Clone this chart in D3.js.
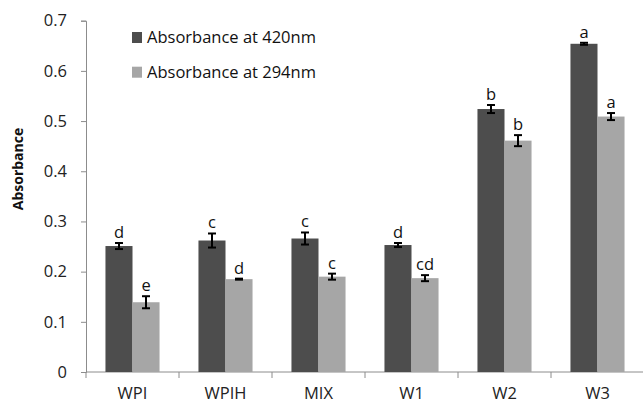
<!DOCTYPE html>
<html><head><meta charset="utf-8">
<script src="https://cdn.jsdelivr.net/npm/d3@7"></script>
<style>body{margin:0;background:#fff}svg{display:block}text{font-family:"Open Sans",sans-serif}</style>
</head><body><svg id="c" width="643" height="405"></svg>
<script>
const categories = ["WPI","WPIH","MIX","W1","W2","W3"];
const seriesNames = ["Absorbance at 420nm","Absorbance at 294nm"];
const abs420 = [0.251,0.262,0.266,0.253,0.524,0.654];
const abs294 = [0.139,0.185,0.190,0.187,0.461,0.509];
const err420 = [0.006,0.014,0.012,0.004,0.008,0.002];
const err294 = [0.012,0.001,0.006,0.006,0.011,0.007];
const letters420 = ["d","c","c","d","b","a"];
const letters294 = ["e","d","c","cd","b","a"];
const yTicks = [0,0.1,0.2,0.3,0.4,0.5,0.6,0.7];
const colors = ["#4d4d4d","#a6a6a6"];

(function(){
const svg = d3.select("#c");
const mLeft = 86, mRight = 644, mTop = 20.7, mBottom = 372;
const x = d3.scaleBand().domain(categories).range([mLeft,mRight]).paddingInner(0).paddingOuter(0);
const y = d3.scaleLinear().domain([0,0.7]).range([mBottom,mTop]);
const inner = d3.scaleBand().domain([0,1]).range([0,x.bandwidth()]).paddingOuter(0.72).paddingInner(0);

// y axis
const ya = svg.append("g").attr("transform",`translate(${mLeft},0)`)
  .call(d3.axisLeft(y).tickValues(yTicks).tickSize(5).tickPadding(14).tickFormat(d=>d===0?"0":d3.format(".1f")(d)));
ya.select(".domain").attr("stroke","#8c8c8c");
ya.selectAll(".tick line").attr("stroke","#8c8c8c");
ya.selectAll("text").attr("font-size",16.5).attr("fill","#222");

// x axis
const xa = svg.append("g").attr("transform",`translate(0,${mBottom})`)
  .call(d3.axisBottom(x).tickSize(0).tickPadding(15));
xa.select(".domain").attr("stroke","#8c8c8c").attr("d",`M${mLeft},0H${mRight}`);
xa.selectAll("text").attr("font-size",16.5).attr("fill","#222");
svg.append("g").selectAll("line").data(d3.range(categories.length+1)).join("line")
  .attr("x1",i=>mLeft+i*x.step()).attr("x2",i=>mLeft+i*x.step())
  .attr("y1",mBottom).attr("y2",mBottom+6).attr("stroke","#8c8c8c");

// bars
const series = [abs420, abs294], errs=[err420,err294], lets=[letters420,letters294];
series.forEach((vals,s)=>{
  const g = svg.append("g");
  g.selectAll("rect").data(vals).join("rect")
    .attr("x",(d,i)=>x(categories[i])+inner(s))
    .attr("width",inner.bandwidth())
    .attr("y",d=>y(d)).attr("height",d=>y(0)-y(d))
    .attr("fill",colors[s]);
  const cx=(i)=>x(categories[i])+inner(s)+inner.bandwidth()/2;
  const eg = svg.append("g").attr("stroke","#000").attr("stroke-width",2);
  vals.forEach((v,i)=>{
    const e=errs[s][i], c=cx(i);
    eg.append("line").attr("x1",c).attr("x2",c).attr("y1",y(v+e)).attr("y2",y(v-e));
    eg.append("line").attr("x1",c-4).attr("x2",c+4).attr("y1",y(v+e)).attr("y2",y(v+e));
    eg.append("line").attr("x1",c-4).attr("x2",c+4).attr("y1",y(v-e)).attr("y2",y(v-e));
    svg.append("text").attr("x",c).attr("y",y(v+e)-5).attr("text-anchor","middle")
      .attr("font-size",16.5).attr("fill","#111").text(lets[s][i]);
  });
});

// y title
svg.append("text").attr("transform","translate(23,169) rotate(-90)").attr("text-anchor","middle")
  .attr("font-size",14).attr("font-weight","bold").attr("fill","#111").text("Absorbance");

// legend
const lg = svg.append("g");
seriesNames.forEach((n,i)=>{
  const yy = 32 + i*34.7;
  lg.append("rect").attr("x",132).attr("y",yy).attr("width",10).attr("height",11).attr("fill",colors[i]);
  lg.append("text").attr("x",147).attr("y",yy+11).attr("font-size",16.5).attr("fill","#111").text(n);
});
})();
</script></body></html>
